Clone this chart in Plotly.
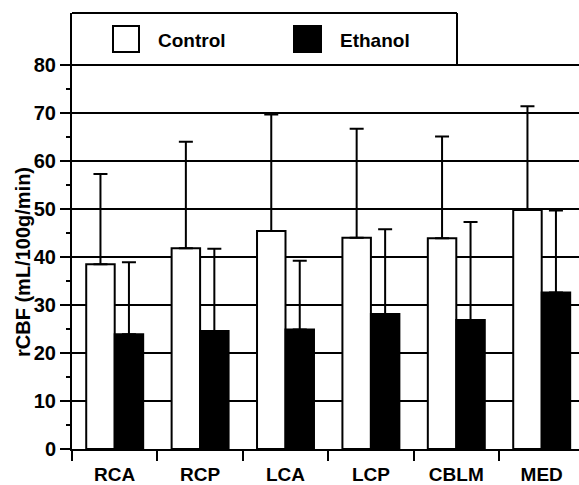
import plotly.graph_objects as go

categories = ["RCA", "RCP", "LCA", "LCP", "CBLM", "MED"]
control = [38.5, 41.8, 45.4, 44.0, 43.9, 49.8]
control_err_top = [57.3, 64.0, 69.7, 66.7, 65.1, 71.4]
ethanol = [23.9, 24.6, 24.9, 28.1, 26.9, 32.6]
ethanol_err_top = [38.9, 41.7, 39.2, 45.8, 47.3, 49.7]
y_ticks = [0, 10, 20, 30, 40, 50, 60, 70, 80]

W, H = 579, 485
L, R, T, B = 72, 0, 13, 36
PW, PH = W - L - R, H - T - B


def px_x(px):
    return (px - L) / PW


def px_y(py):
    return (H - B - py) / PH


control_err = [t - v for t, v in zip(control_err_top, control)]
ethanol_err = [t - v for t, v in zip(ethanol_err_top, ethanol)]

fig = go.Figure()
fig.add_trace(go.Bar(
    x=categories, y=control, name="Control",
    marker=dict(color="white", line=dict(color="black", width=2)),
    error_y=dict(type="data", symmetric=False, array=control_err,
                 arrayminus=[0] * len(control), color="black", thickness=2, width=7),
))
fig.add_trace(go.Bar(
    x=categories, y=ethanol, name="Ethanol",
    marker=dict(color="black", line=dict(color="black", width=2)),
    error_y=dict(type="data", symmetric=False, array=ethanol_err,
                 arrayminus=[0] * len(ethanol), color="black", thickness=2, width=7),
))

font_family = "Arial, Liberation Sans, sans-serif"

fig.update_layout(
    width=W, height=H,
    margin=dict(l=L, r=R, t=T, b=B, pad=0),
    paper_bgcolor="white", plot_bgcolor="white",
    barmode="group", bargap=0.333, bargroupgap=0,
    showlegend=False,
    font=dict(family=font_family, color="black"),
    xaxis=dict(
        range=[-0.5, -0.5 + PW / 85.4],
        tickson="boundaries", ticks="outside", ticklen=10, tickwidth=2, tickcolor="black",
        showline=True, linecolor="black", linewidth=2, showgrid=False,
        tickfont=dict(size=19, weight="bold"), ticklabelstandoff=7,
    ),
    yaxis=dict(
        range=[0, 80 * PH / (449 - 65)],
        tickvals=y_ticks, ticks="outside", ticklen=10, tickwidth=2, tickcolor="black",
        showline=True, linecolor="black", linewidth=2,
        showgrid=True, gridcolor="black", gridwidth=1.5, zeroline=False,
        tickfont=dict(size=20, weight="bold"),
        minor=dict(tickvals=[5, 15, 25, 35, 45, 55, 65, 75], ticks="outside",
                   ticklen=4, tickwidth=1.5, tickcolor="black", showgrid=False),
    ),
)

# y-axis title
fig.add_annotation(xref="paper", yref="paper", x=px_x(23), y=px_y(262),
                   text="rCBF (mL/100g/min)", textangle=-90, showarrow=False,
                   xanchor="center", yanchor="middle", font=dict(size=20, weight="bold"))

# legend box drawn manually
box_r = px_x(457)
fig.add_shape(type="line", xref="paper", yref="paper", x0=0, x1=box_r, y0=1, y1=1,
              line=dict(color="black", width=2))
fig.add_shape(type="line", xref="paper", yref="paper", x0=box_r, x1=box_r, y0=1, y1=px_y(65),
              line=dict(color="black", width=2))
fig.add_shape(type="rect", xref="paper", yref="paper", x0=px_x(113), x1=px_x(139),
              y0=px_y(52), y1=px_y(26), fillcolor="white", line=dict(color="black", width=2))
fig.add_shape(type="rect", xref="paper", yref="paper", x0=px_x(294), x1=px_x(321),
              y0=px_y(52), y1=px_y(26), fillcolor="black", line=dict(color="black", width=2))
fig.add_annotation(xref="paper", yref="paper", x=px_x(156), y=px_y(40), text="Control",
                   showarrow=False, xanchor="left", yanchor="middle", font=dict(size=19, weight="bold"))
fig.add_annotation(xref="paper", yref="paper", x=px_x(338), y=px_y(40), text="Ethanol",
                   showarrow=False, xanchor="left", yanchor="middle", font=dict(size=19, weight="bold"))

fig.write_html("out.html")
